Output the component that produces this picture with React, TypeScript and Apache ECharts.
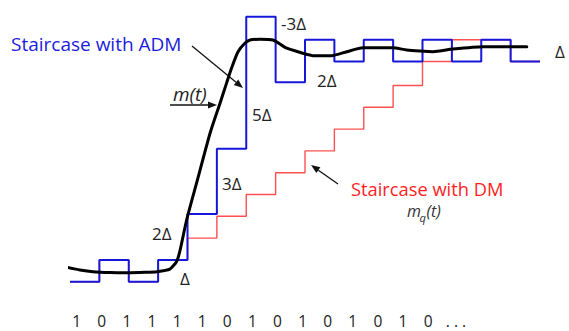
import React, { useEffect, useRef } from "react";
import * as echarts from "echarts";

// time in sampling steps, amplitude in units of the base step Δ
const admLevels = [0, 1, 0, 1, 3.1, 6.1, 12.15, 9.15, 11.1, 10.1, 11.1, 10.1, 11.1, 10.1, 11.1, 10.1];
const dmLevels = [0, 1, 0, 1, 2, 3, 4, 5, 6, 7, 8, 9, 10.1, 11.1, 11.1, 10.1];
const signalT = [-0.1, 0.34, 0.78, 1.36, 1.94, 2.55, 2.96, 3.4, 3.63, 3.74, 3.97, 4.31, 4.77, 5.11, 5.33, 5.5, 5.72, 5.96, 6.13, 6.47, 6.91, 7.38, 7.93, 8.27, 8.91, 9.42, 9.97, 10.99, 11.46, 11.91, 12.36, 13.04, 14.06, 15.55];
const signalV = [0.66, 0.54, 0.46, 0.42, 0.41, 0.43, 0.46, 0.58, 0.93, 1.4, 2.83, 4.53, 6.82, 8.2, 9.11, 9.8, 10.55, 10.95, 11.09, 11.12, 11.09, 10.71, 10.48, 10.37, 10.37, 10.55, 10.73, 10.73, 10.63, 10.58, 10.55, 10.67, 10.78, 10.78];
const bits = ["1", "0", "1", "1", "1", "1", "0", "1", "0", "1", "0", "1", "0", "1", "0"];

const FONT = '"Open Sans", "Noto Sans", sans-serif';

function staircase(levels: number[]) {
  const pts = levels.map((v, k) => [k, v]);
  pts.push([levels.length, levels[levels.length - 1]]);
  return pts;
}

function arrow(x1: number, y1: number, x2: number, y2: number, head = 9, w = 3.5) {
  const dx = x2 - x1, dy = y2 - y1;
  const L = Math.hypot(dx, dy);
  const ux = dx / L, uy = dy / L;
  const bx = x2 - ux * head, by = y2 - uy * head;
  return [
    { type: "line", shape: { x1, y1, x2: bx, y2: by }, style: { stroke: "#111", lineWidth: 1.3 } },
    {
      type: "polygon",
      shape: { points: [[x2, y2], [bx - uy * w, by + ux * w], [bx + uy * w, by - ux * w]] },
      style: { fill: "#111" },
    },
  ];
}

function txt(text: string, x: number, y: number, font: string, fill = "#222", align = "left") {
  return {
    type: "text",
    x,
    y,
    style: { text, font, fill, align, verticalAlign: "middle", textAlign: align, textVerticalAlign: "middle" },
  };
}

export default function App() {
  const ref = useRef<HTMLDivElement>(null);
  useEffect(() => {
    if (!ref.current) return;
    const chart = echarts.init(ref.current, null, { renderer: "svg" });
    const deltaFont = `17px ${FONT}`;
    const graphics: any[] = [
      txt("Staircase with ADM", 11, 44, `19px ${FONT}`, "#1c1cdc"),
      txt("m(t)", 173, 94, `italic 19px ${FONT}`, "#222"),
      txt("-3Δ", 281, 23, deltaFont),
      txt("2Δ", 317, 80, deltaFont),
      txt("5Δ", 252, 114, deltaFont),
      txt("3Δ", 222, 183, deltaFont),
      txt("2Δ", 152, 233, deltaFont),
      txt("Δ", 180, 278, deltaFont),
      txt("Δ", 555, 51, deltaFont),
      txt("Staircase with DM", 351, 188, `18.3px ${FONT}`, "#ff1e1e"),
      txt("m", 407, 211, `italic 16px ${FONT}`, "#333"),
      txt("q", 419.5, 217, `italic 11px ${FONT}`, "#333"),
      txt("(t)", 426.5, 211, `italic 16px ${FONT}`, "#333"),
      ...arrow(192, 46, 243, 88),
      ...arrow(170, 105, 217, 105),
      ...arrow(338, 184, 311, 165),
      ...bits.map((b, i) => txt(b, 76.7 + i * 25.1, 321, `15.5px ${FONT}`, "#222", "center")),
      txt(". . .", 456, 321, `15.5px ${FONT}`, "#222", "center"),
    ];
    chart.setOption({
      animation: false,
      backgroundColor: "#fff",
      grid: { left: 70, right: 29, top: 9.2, bottom: 27.5 },
      xAxis: { type: "value", min: 0, max: 16, show: false },
      yAxis: { type: "value", min: -1, max: 12.5, show: false },
      series: [
        {
          name: "DM",
          type: "line",
          step: "end",
          data: staircase(dmLevels),
          symbol: "none",
          clip: false,
          lineStyle: { color: "#ff5050", width: 1.4 },
          z: 1,
        },
        {
          name: "ADM",
          type: "line",
          step: "end",
          data: staircase(admLevels),
          symbol: "none",
          clip: false,
          lineStyle: { color: "#1717d9", width: 2 },
          z: 2,
        },
        {
          name: "m(t)",
          type: "line",
          data: signalT.map((t, i) => [t, signalV[i]]),
          symbol: "none",
          smooth: 0.2,
          clip: false,
          lineStyle: { color: "#000", width: 3, join: "round", cap: "round" },
          z: 3,
        },
      ],
      graphic: graphics,
    });
    return () => chart.dispose();
  }, []);
  return (
    <div
      ref={ref}
      style={{ position: "fixed", left: 0, top: 0, width: 569, height: 331, background: "#fff" }}
    />
  );
}
